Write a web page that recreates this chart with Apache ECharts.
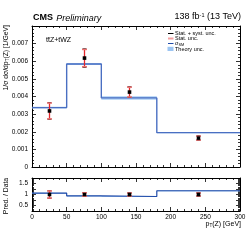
<!DOCTYPE html>
<html><head><meta charset="utf-8">
<script src="https://cdn.jsdelivr.net/npm/echarts@6/dist/echarts.min.js"></script>
<style>html,body{margin:0;padding:0;background:#fff}#c{width:249px;height:244px}</style>
</head><body><div id="c"></div>
<script>
// ---- data ----
var binEdges = [0, 50, 100, 180, 300];
var binCenters = [25, 75, 140, 240];
var predValues = [0.00337, 0.00584, 0.00392, 0.00195];      // sigma_SM
var theoryRel = [0.015, 0.01, 0.025, 0.01];                 // relative theory unc.
var dataValues = [0.00318, 0.00618, 0.00425, 0.00164];
var dataStat = [0.00045, 0.00049, 0.00028, 0.00011];
var dataTotal = [0.00047, 0.00052, 0.00030, 0.00013];
var ratioPred = [1.06, 0.94, 0.91, 1.17];
var ratioData = [1, 1, 1, 1];
var ratioStat = [0.16, 0.08, 0.07, 0.07];
var ratioTotal = [0.17, 0.085, 0.075, 0.08];
var xTicksLabel = [0, 50, 100, 150, 200, 250, 300];

var FONT = 'Liberation Sans';
function stepPoints(vals) {
  var pts = [];
  for (var i = 0; i < vals.length; i++) pts.push([binEdges[i], vals[i]]);
  pts.push([binEdges[binEdges.length - 1], vals[vals.length - 1]]);
  return pts;
}
function bandData(vals, rel) {
  return vals.map(function (v, i) { return [binEdges[i], binEdges[i + 1], v * (1 - rel[i]), v * (1 + rel[i])]; });
}
function errData(x, y, tot, stat) {
  return x.map(function (xv, i) { return [xv, y[i], tot[i], stat[i]]; });
}
function bandRender(params, api) {
  var p0 = api.coord([api.value(0), api.value(3)]);
  var p1 = api.coord([api.value(1), api.value(2)]);
  return { type: 'rect', shape: { x: p0[0], y: p0[1], width: p1[0] - p0[0], height: Math.max(p1[1] - p0[1], 1) },
    style: { fill: '#9cc5f2', opacity: 0.85 } };
}
function errRender(params, api) {
  var x = api.value(0), y = api.value(1), t = api.value(2), s = api.value(3);
  var c = api.coord([x, y]);
  var tt = api.coord([x, y + t]), tb = api.coord([x, y - t]);
  var st = api.coord([x, y + s]), sb = api.coord([x, y - s]);
  var cx = Math.round(c[0]) + 0.5;
  return { type: 'group', children: [
    { type: 'line', shape: { x1: cx, y1: tt[1], x2: cx, y2: tb[1] }, style: { stroke: '#000', lineWidth: 1 } },
    { type: 'line', shape: { x1: cx - 2, y1: tt[1], x2: cx + 2, y2: tt[1] }, style: { stroke: '#000', lineWidth: 1 } },
    { type: 'line', shape: { x1: cx - 2, y1: tb[1], x2: cx + 2, y2: tb[1] }, style: { stroke: '#000', lineWidth: 1 } },
    { type: 'line', shape: { x1: cx, y1: st[1], x2: cx, y2: sb[1] }, style: { stroke: '#e3262b', lineWidth: 1.3 } },
    { type: 'line', shape: { x1: cx - 2.5, y1: st[1], x2: cx + 2.5, y2: st[1] }, style: { stroke: '#ee7070', lineWidth: 1.5 } },
    { type: 'line', shape: { x1: cx - 2.5, y1: sb[1], x2: cx + 2.5, y2: sb[1] }, style: { stroke: '#ee7070', lineWidth: 1.5 } },
    { type: 'rect', shape: { x: cx - 1.8, y: c[1] - 1.8, width: 3.6, height: 3.6 }, style: { fill: '#000' } }
  ] };
}
function xAx(grid, pos, labels) {
  return { type: 'value', gridIndex: grid, position: pos, min: 0, max: 300, interval: 50,
    axisLine: { show: true, onZero: false, lineStyle: { color: '#000', width: 1 } },
    axisTick: { show: true, inside: true, length: 4, lineStyle: { color: '#000', width: 0.8 } },
    minorTick: { show: true, splitNumber: 5, length: 2, lineStyle: { color: '#000', width: 0.8 } },
    splitLine: { show: false },
    axisLabel: { show: labels, fontFamily: FONT, fontSize: 6.5, color: '#000', margin: 3 } };
}
function yAx(grid, pos, labels, min, max, interval, fmt, minorSplit) {
  return { type: 'value', gridIndex: grid, position: pos, min: min, max: max, interval: interval,
    axisLine: { show: true, onZero: false, lineStyle: { color: '#000', width: 1 } },
    axisTick: { show: true, inside: true, length: 4, lineStyle: { color: '#000', width: 0.8 } },
    minorTick: { show: true, splitNumber: minorSplit, length: 2, lineStyle: { color: '#000', width: 0.8 } },
    splitLine: { show: false },
    axisLabel: { show: labels, fontFamily: FONT, fontSize: 6.5, color: '#000', margin: 4, formatter: fmt } };
}
var mainFmt = function (v) { if (Math.abs(v) < 1e-9) return '0'; if (v > 0.00795) return ''; return v.toFixed(3); };
var ratioFmt = function (v) {
  var r = Math.round(v * 100) / 100;
  if (r === 0.5) return '0.5'; if (r === 1) return '1'; if (r === 1.5) return '1.5'; return '';
};

var chart = echarts.init(document.getElementById('c'), null, { renderer: 'canvas' });
chart.setOption({
  animation: false,
  grid: [
    { left: 32, right: 9, top: 26, height: 141 },
    { left: 32, right: 9, top: 178, height: 33 }
  ],
  xAxis: [xAx(0, 'bottom', false), xAx(0, 'top', false), xAx(1, 'bottom', true), xAx(1, 'top', false)],
  yAxis: [
    yAx(0, 'left', true, 0, 0.008, 0.001, mainFmt, 5),
    yAx(0, 'right', false, 0, 0.008, 0.001, mainFmt, 5),
    yAx(1, 'left', true, 0.25, 1.75, 0.25, ratioFmt, 5),
    yAx(1, 'right', false, 0.25, 1.75, 0.25, ratioFmt, 5)
  ],
  series: [
    { type: 'custom', xAxisIndex: 0, yAxisIndex: 0, renderItem: bandRender, data: bandData(predValues, theoryRel), z: 2 },
    { type: 'line', xAxisIndex: 0, yAxisIndex: 0, step: 'end', showSymbol: false, data: stepPoints(predValues),
      lineStyle: { color: '#4a6fc2', width: 1.4 }, z: 3 },
    { type: 'custom', xAxisIndex: 0, yAxisIndex: 0, renderItem: errRender, data: errData(binCenters, dataValues, dataTotal, dataStat), z: 5 },
    { type: 'custom', xAxisIndex: 2, yAxisIndex: 2, renderItem: bandRender, data: bandData(ratioPred, theoryRel), z: 2 },
    { type: 'line', xAxisIndex: 2, yAxisIndex: 2, step: 'end', showSymbol: false, data: stepPoints(ratioPred),
      lineStyle: { color: '#1f4aa8', width: 1.2 }, z: 3 },
    { type: 'custom', xAxisIndex: 2, yAxisIndex: 2, renderItem: errRender, data: errData(binCenters, ratioData, ratioTotal, ratioStat), z: 5 }
  ],
  graphic: [
    { type: 'text', left: 33, top: 12, style: { text: '{b|CMS} {i|Preliminary}', fill: '#000',
      rich: { b: { fontFamily: FONT, fontWeight: 'bold', fontSize: 9 }, i: { fontFamily: FONT, fontStyle: 'italic', fontSize: 9 } } } },
    { type: 'text', right: 8, top: 12, style: { text: '138 fb{sup|-1} (13 TeV)', fill: '#000', fontFamily: FONT, fontSize: 9,
      rich: { sup: { fontFamily: FONT, fontSize: 5.5, verticalAlign: 'top', padding: [0, 0, 4, 0] } } } },
    { type: 'text', x: 46, y: 40.5, style: { text: 'tt\u0304Z+tWZ', fill: '#000', fontFamily: FONT, fontSize: 7, textVerticalAlign: 'middle' } },
    // legend
    { type: 'line', shape: { x1: 168, y1: 33.5, x2: 173.5, y2: 33.5 }, style: { stroke: '#000', lineWidth: 1 } },
    { type: 'text', x: 175, y: 33.5, style: { text: 'Stat. + syst. unc.', fill: '#000', fontFamily: FONT, fontSize: 5.5, textVerticalAlign: 'middle' } },
    { type: 'line', shape: { x1: 168, y1: 38.5, x2: 173.5, y2: 38.5 }, style: { stroke: '#f4a0a0', lineWidth: 2 } },
    { type: 'text', x: 175, y: 38.5, style: { text: 'Stat. unc.', fill: '#000', fontFamily: FONT, fontSize: 5.5, textVerticalAlign: 'middle' } },
    { type: 'line', shape: { x1: 168, y1: 43.5, x2: 173.5, y2: 43.5 }, style: { stroke: '#1f4aa8', lineWidth: 1 } },
    { type: 'text', x: 175, y: 43, style: { text: '\u03c3{s|SM}', fill: '#000', fontFamily: FONT, fontSize: 5.5, textVerticalAlign: 'middle',
      rich: { s: { fontFamily: FONT, fontSize: 3.8, padding: [3, 0, 0, 0] } } } },
    { type: 'rect', shape: { x: 167.5, y: 46.8, width: 6, height: 4.2 }, style: { fill: '#9cc5f2' } },
    { type: 'text', x: 175, y: 49, style: { text: 'Theory unc.', fill: '#000', fontFamily: FONT, fontSize: 5.5, textVerticalAlign: 'middle' } },
    // axis titles
    { type: 'text', x: 6, y: 25, rotation: Math.PI / 2, style: { text: '1/\u03c3 d\u03c3/dp{s|T}(Z) [1/GeV]', fill: '#000', fontFamily: FONT, fontSize: 6.8,
      textAlign: 'right', textVerticalAlign: 'middle', rich: { s: { fontFamily: FONT, fontSize: 4.5, padding: [4, 0, 0, 0] } } } },
    { type: 'text', x: 6, y: 196, rotation: Math.PI / 2, style: { text: 'Pred. / Data', fill: '#000', fontFamily: FONT, fontSize: 6.8,
      textAlign: 'center', textVerticalAlign: 'middle' } },
    { type: 'text', x: 241, y: 224, style: { text: 'p{s|T}(Z) [GeV]', fill: '#000', fontFamily: FONT, fontSize: 7,
      textAlign: 'right', textVerticalAlign: 'middle', rich: { s: { fontFamily: FONT, fontSize: 4.6, padding: [4, 0, 0, 0] } } } }
  ]
});
</script></body></html>
